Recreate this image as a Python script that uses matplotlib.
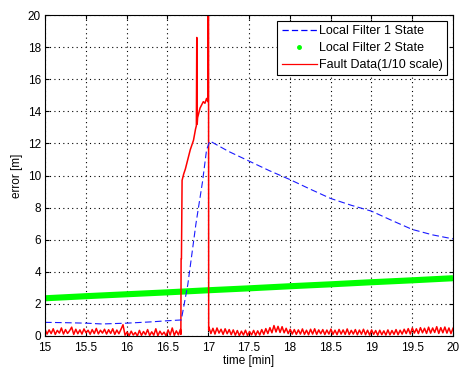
import matplotlib
matplotlib.use('Agg')
import matplotlib.pyplot as plt
import numpy as np

plt.rcParams['font.family'] = ['Liberation Sans', 'DejaVu Sans']

# local filter 1 (blue dashed)
f1_t = [15.0, 15.25, 15.5, 15.7, 16.0, 16.3, 16.5, 16.67, 16.75, 16.85, 16.93, 16.98, 17.02,
        17.25, 17.5, 17.75, 18.0, 18.25, 18.5, 18.75, 19.0, 19.25, 19.5, 19.75, 20.0]
f1_err = [0.85, 0.83, 0.8, 0.75, 0.8, 0.88, 0.95, 1.0, 3.2, 7.0, 9.6, 11.6, 12.15,
          11.5, 10.9, 10.3, 9.75, 9.15, 8.57, 8.15, 7.78, 7.2, 6.64, 6.3, 6.05]

# local filter 2 (green)
f2_t = [15.0, 15.5, 16.0, 16.5, 17.0, 17.5, 18.0, 18.5, 19.0, 19.5, 20.0]
f2_err = [2.35, 2.48, 2.6, 2.72, 2.85, 2.97, 3.1, 3.22, 3.35, 3.47, 3.6]

# fault data, before the fault (15 - 16.66)
fault_pre = [0.42, 0.12, 0.38, 0.15, 0.45, 0.10, 0.35, 0.18, 0.50, 0.12, 0.40, 0.16, 0.33,
             0.55, 0.10, 0.42, 0.14, 0.38, 0.12, 0.44, 0.20, 0.36, 0.11, 0.40, 0.15, 0.47,
             0.13, 0.36, 0.18, 0.42, 0.12, 0.39, 0.16, 0.45, 0.10, 0.37, 0.14, 0.41, 0.70,
             0.05, 0.25, 0.02, 0.30, 0.06, 0.22, 0.00, 0.35, 0.04, 0.28, 0.08, 0.40, 0.03,
             0.26, 0.05, 0.45, 0.02, 0.30, 0.08, 0.24, 0.01, 0.38, 0.06, 0.50, 0.04, 0.32,
             0.07, 0.42]
# fault event
fault_t = [16.665, 16.668, 16.672, 16.68, 16.70, 16.72, 16.74, 16.76, 16.78, 16.80, 16.82,
           16.845, 16.855, 16.86, 16.865, 16.87, 16.88, 16.90, 16.92, 16.94, 16.96, 16.98,
           16.995, 16.998, 17.004, 17.006]
fault_ev = [0.10, 4.8, 4.8, 9.7, 10.1, 10.4, 10.8, 11.2, 11.6, 11.9, 12.2,
            12.9, 13.1, 18.6, 13.2, 13.6, 13.8, 14.2, 14.4, 14.6, 14.5, 14.8,
            14.6, 22.0, 22.0, 0.35]
# fault data, after the fault (17 - 20)
fault_post = [0.55, 0.15, 0.48, 0.12, 0.50, 0.18, 0.42, 0.10, 0.45, 0.14, 0.40, 0.08,
              0.38, 0.05, 0.34, 0.02, 0.30, 0.06, 0.36, 0.03, 0.28, 0.07, 0.35, 0.04,
              0.32, 0.06, 0.40, 0.10, 0.46, 0.15, 0.52, 0.20, 0.65, 0.25, 0.60, 0.22,
              0.58, 0.20, 0.48, 0.15, 0.42, 0.12, 0.40, 0.10, 0.38, 0.12, 0.44, 0.10,
              0.36, 0.08, 0.42, 0.12, 0.45, 0.10, 0.38, 0.14, 0.40, 0.09, 0.37, 0.12,
              0.43, 0.10, 0.36, 0.08, 0.41, 0.12, 0.38, 0.10, 0.44, 0.09, 0.35, 0.12,
              0.40, 0.08, 0.37, 0.11, 0.42, 0.08, 0.36, 0.06, 0.38, 0.10, 0.34, 0.05,
              0.36, 0.08, 0.32, 0.06, 0.38, 0.07, 0.34, 0.10, 0.40, 0.08, 0.36, 0.12,
              0.42, 0.15, 0.46, 0.12, 0.50, 0.18, 0.45, 0.15, 0.52, 0.20, 0.48, 0.16,
              0.55, 0.18, 0.50, 0.22, 0.58, 0.16, 0.52, 0.20, 0.56, 0.18, 0.50, 0.15,
              0.48]

fig = plt.figure(figsize=(4.6, 3.7), dpi=100)
ax = fig.add_axes([45/460, 34/370, 408/460, 321/370])

t_pre = np.linspace(15.0, 16.66, len(fault_pre))
t_post = np.linspace(17.008, 20.0, len(fault_post))
fault_all_t = list(t_pre) + fault_t + list(t_post)
fault_all = fault_pre + fault_ev + fault_post

ax.plot(f2_t, f2_err, '-', color='#00ff00', lw=4.4, solid_capstyle='butt')
ax.plot(fault_all_t, fault_all, '-', color='#ff0000', lw=1.1)
ax.plot(f1_t, f1_err, '--', color='#1a1aff', lw=0.8, dashes=(6, 3))

ax.plot([], [], '--', color='#0000ff', lw=0.9, dashes=(5, 2.5), label='Local Filter 1 State')
ax.plot([], [], '.', color='#00ff00', markersize=5, label='Local Filter 2 State')
ax.plot([], [], '-', color='#ff0000', lw=0.9, label='Fault Data(1/10 scale)')

ax.set_xlim(15, 20)
ax.set_ylim(0, 20)
ax.set_xticks(np.arange(15, 20.01, 0.5))
ax.set_xticklabels(['15', '15.5', '16', '16.5', '17', '17.5', '18', '18.5', '19', '19.5', '20'])
ax.set_yticks(np.arange(0, 21, 2))
ax.tick_params(direction='in', length=3, labelsize=8.5, top=True, right=True)
ax.tick_params(axis='x', pad=4)
ax.tick_params(axis='y', pad=3)
ax.grid(True, color='black', linestyle=(0, (1, 3)), lw=0.8)
ax.set_xlabel('time [min]', fontsize=8.5, labelpad=1)
ax.set_ylabel('error [m]', fontsize=8.5, labelpad=3)

leg = ax.legend(loc='upper right', fontsize=9, fancybox=False, framealpha=1,
                edgecolor='black', borderaxespad=0.45, handlelength=2.8, borderpad=0.35,
                labelspacing=0.4, handletextpad=0.2)
leg.get_frame().set_linewidth(0.8)

fig.savefig('out.png', dpi=100)
